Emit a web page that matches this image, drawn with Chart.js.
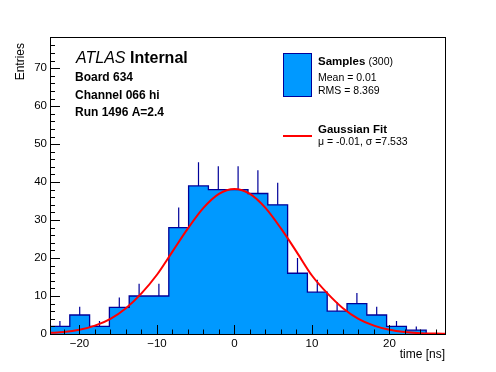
<!DOCTYPE html>
<html>
<head>
<meta charset="utf-8">
<script src="https://cdn.jsdelivr.net/npm/chart.js@4"></script>
<style>
  html, body { margin: 0; padding: 0; background: #fff; }
  #wrap { width: 496px; height: 372px; }
</style>
</head>
<body>
<div id="wrap"><canvas id="histo" width="496" height="372"></canvas></div>
<script>
// histogram binning (20 bins)
const xMin = -23.8;
const xMax = 27.3;
const binWidth = 2.555;
const yMax = 78.2;

// entries per bin and upper error bar length
const counts = [2, 5, 2, 7, 10, 10, 28, 39, 38, 38, 37, 34, 16, 11, 6, 8, 5, 2, 1, 0];
const errors = [1.4, 2.2, 1.4, 2.6, 3.2, 3.2, 5.3, 6.2, 6.2, 6.2, 6.1, 5.8, 4.0, 3.3, 2.4, 2.8, 2.2, 1.4, 1.0, 0];

// gaussian fit curve
const fitX = [-23.8, -22, -20, -18, -16, -14, -12, -10, -8, -6, -4, -2, 0, 2, 4, 6, 8, 10, 12, 14, 16, 18, 20, 22, 24, 26, 27.3];
const fitY = [0.3, 0.5, 1.1, 2.2, 4.0, 6.8, 10.7, 15.6, 21.7, 27.8, 33.2, 36.9, 38.2, 36.9, 33.2, 27.8, 21.7, 15.4, 10.7, 6.8, 4.0, 2.2, 1.1, 0.5, 0.2, 0.1, 0.05];

const xTicks = [-20, -10, 0, 10, 20];
const yTicks = [0, 10, 20, 30, 40, 50, 60, 70];

const infoLines = ['Board 634', 'Channel 066 hi', 'Run 1496 A=2.4'];
const sampleLines = ['Mean = 0.01', 'RMS = 8.369'];
const fitLine = 'μ = -0.01, σ =7.533';

const FONT = '"Liberation Sans", Arial, Helvetica, sans-serif';
const FILL = '#0099ff';
const EDGE = '#000099';

// step outline: one point per bin low edge, closed down to zero at both ends
const histPoints = [{ x: xMin, y: 0 }];
counts.forEach((c, i) => histPoints.push({ x: xMin + i * binWidth, y: c }));
histPoints.push({ x: xMin + counts.length * binWidth, y: 0 });

// upper error bars only (lower half hidden by the fill)
const errPoints = [];
counts.forEach((c, i) => {
  if (errors[i] <= 0) return;
  const cx = xMin + (i + 0.5) * binWidth;
  errPoints.push({ x: cx, y: c }, { x: cx, y: c + errors[i] }, { x: cx, y: null });
});

const fitPoints = fitX.map((x, i) => ({ x: x, y: fitY[i] }));

function minus(v) {
  return v < 0 ? '\u2212' + Math.abs(v) : String(v);
}

const rootStyle = {
  id: 'rootStyle',
  afterDraw(chart) {
    const ctx = chart.ctx;
    const a = chart.chartArea;
    const xs = chart.scales.x;
    const ys = chart.scales.y;
    ctx.save();

    // frame
    ctx.strokeStyle = '#000';
    ctx.lineWidth = 1;
    ctx.strokeRect(a.left + 0.5, a.top + 0.5, a.right - a.left - 1, a.bottom - a.top);

    // inward ticks
    ctx.beginPath();
    for (let v = -22; v <= 26; v += 2) {
      const px = Math.round(xs.getPixelForValue(v)) + 0.5;
      const len = v % 10 === 0 ? 9 : 4.5;
      ctx.moveTo(px, a.bottom);
      ctx.lineTo(px, a.bottom - len);
    }
    for (let v = 2; v <= 76; v += 2) {
      const py = Math.round(ys.getPixelForValue(v)) + 0.5;
      const len = v % 10 === 0 ? 10 : 5;
      ctx.moveTo(a.left, py);
      ctx.lineTo(a.left + len, py);
    }
    ctx.stroke();

    // axis titles
    ctx.fillStyle = '#000';
    ctx.font = '12px ' + FONT;
    ctx.textAlign = 'right';
    ctx.textBaseline = 'alphabetic';
    ctx.fillText('time [ns]', a.right - 1, 358);
    ctx.save();
    ctx.translate(24, a.top + 6);
    ctx.rotate(-Math.PI / 2);
    ctx.fillText('Entries', 0, 0);
    ctx.restore();

    // ATLAS label
    ctx.textAlign = 'left';
    ctx.font = 'italic 16px ' + FONT;
    ctx.fillText('ATLAS', 76, 63);
    const w = ctx.measureText('ATLAS ').width;
    ctx.font = 'bold 16px ' + FONT;
    ctx.fillText('Internal', 76 + w, 63);
    ctx.font = 'bold 12px ' + FONT;
    infoLines.forEach((t, i) => ctx.fillText(t, 75, 81 + i * 17.5));

    // legend: samples
    ctx.fillStyle = FILL;
    ctx.fillRect(283.5, 53.5, 28, 43);
    ctx.strokeStyle = EDGE;
    ctx.strokeRect(283.5, 53.5, 28, 43);
    ctx.fillStyle = '#000';
    ctx.font = 'bold 11.5px ' + FONT;
    ctx.fillText('Samples', 318, 65);
    const sw = ctx.measureText('Samples ').width;
    ctx.font = '10.5px ' + FONT;
    ctx.fillText('(300)', 318 + sw, 65);
    sampleLines.forEach((t, i) => ctx.fillText(t, 318, 80.5 + i * 13.5));

    // legend: fit
    ctx.strokeStyle = '#ff0000';
    ctx.lineWidth = 2;
    ctx.beginPath();
    ctx.moveTo(283, 136);
    ctx.lineTo(312, 136);
    ctx.stroke();
    ctx.fillStyle = '#000';
    ctx.font = 'bold 11.5px ' + FONT;
    ctx.fillText('Gaussian Fit', 318, 133);
    ctx.font = '10.5px ' + FONT;
    ctx.fillText(fitLine, 318, 145);

    ctx.restore();
  }
};

const tickFont = { family: FONT, size: 11.5 };

new Chart(document.getElementById('histo'), {
  type: 'line',
  data: {
    datasets: [
      {
        label: 'Gaussian Fit',
        data: fitPoints,
        borderColor: '#ff0000',
        borderWidth: 2,
        pointRadius: 0,
        cubicInterpolationMode: 'monotone',
        fill: false,
        order: 0
      },
      {
        label: 'errors',
        data: errPoints,
        borderColor: EDGE,
        borderWidth: 1.2,
        pointRadius: 0,
        spanGaps: false,
        fill: false,
        order: 1
      },
      {
        label: 'Samples',
        data: histPoints,
        stepped: 'before',
        borderColor: EDGE,
        borderWidth: 1.3,
        backgroundColor: FILL,
        pointRadius: 0,
        fill: 'origin',
        order: 2
      }
    ]
  },
  options: {
    responsive: false,
    animation: false,
    events: [],
    layout: { padding: { top: 37, right: 50, left: 0, bottom: 0 } },
    plugins: {
      legend: { display: false },
      tooltip: { enabled: false }
    },
    scales: {
      x: {
        type: 'linear',
        min: xMin,
        max: xMax,
        afterFit(s) { s.height = 38; },
        afterBuildTicks(s) { s.ticks = xTicks.map(v => ({ value: v })); },
        grid: { display: false, drawTicks: false },
        border: { display: false },
        ticks: {
          font: tickFont,
          color: '#000',
          padding: 3,
          maxRotation: 0,
          autoSkip: false,
          callback: v => minus(v)
        }
      },
      y: {
        type: 'linear',
        min: 0,
        max: yMax,
        afterFit(s) { s.width = 50; },
        afterBuildTicks(s) { s.ticks = yTicks.map(v => ({ value: v })); },
        grid: { display: false, drawTicks: false },
        border: { display: false },
        ticks: {
          font: tickFont,
          color: '#000',
          padding: 3,
          autoSkip: false,
          callback: v => String(v)
        }
      }
    }
  },
  plugins: [rootStyle]
});
</script>
</body>
</html>
